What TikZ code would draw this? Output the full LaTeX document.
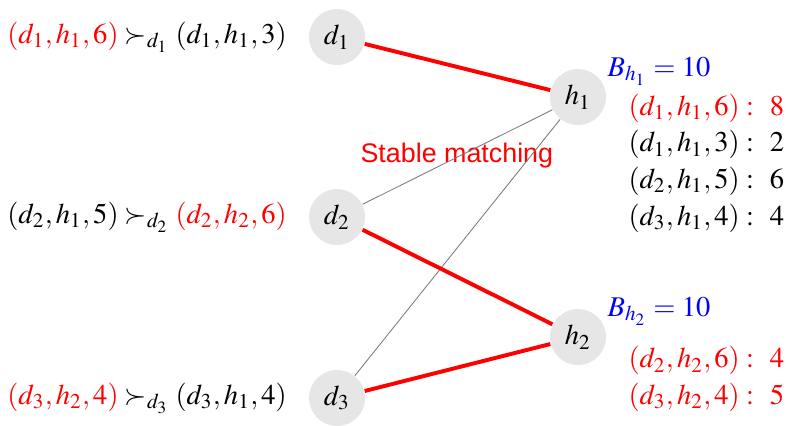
\documentclass[tikz,border=0pt]{standalone}
\usepackage{mathptmx}
\usepackage[no-math]{fontspec}
\newfontfamily\capsans{Liberation Sans}
\usetikzlibrary{positioning}
\definecolor{agentfill}{HTML}{E6E6E6}
\definecolor{matchred}{HTML}{FF0000}
\definecolor{budgetblue}{HTML}{0000FF}
\definecolor{edgegray}{HTML}{7A7A7A}
\tikzset{
  agent/.style={circle,fill=agentfill,minimum size=19.6pt,inner sep=0pt},
  pref/.style={inner sep=0pt},
  budget/.style={text=budgetblue,inner sep=0pt,anchor=west},
  tlist/.style={align=left,inner sep=0pt,anchor=west,font=\fontsize{10}{12.85}\selectfont},
  match/.style={draw=matchred,line width=1.37pt},
  cand/.style={draw=edgegray,line width=0.3pt}
}
\begin{document}
\begin{tikzpicture}[x=0.35pt,y=-0.35pt,node distance=7.4pt]
    \useasboundingbox (0,0) rectangle (790,425);
    % doctors and hospitals
    \node[agent] (d1) at (337,37) {$d_1$};
    \node[agent] (d2) at (337,217) {$d_2$};
    \node[agent] (d3) at (337,398) {$d_3$};
    \node[agent] (h1) at (578,97) {$h_1$};
    \node[agent] (h2) at (578,337) {$h_2$};
    % preferences of the doctors
    \node[pref,left=of d1] (p1) {$\textcolor{matchred}{(d_1,h_1,6)}\succ_{d_1}(d_1,h_1,3)$};
    \node[pref,left=of d2] (p2) {$(d_2,h_1,5)\succ_{d_2}\textcolor{matchred}{(d_2,h_2,6)}$};
    \node[pref,left=of d3] (p3) {$\textcolor{matchred}{(d_3,h_2,4)}\succ_{d_3}(d_3,h_1,4)$};
    % budgets and contracts of the hospitals
    \node[budget] (b1) at (607,71) {$B_{h_1}=10$};
    \node[tlist] (c1) at (628,163) {$\textcolor{matchred}{(d_1,h_1,6):\;\,8}$\\
      $(d_1,h_1,3):\;\,2$\\ $(d_2,h_1,5):\;\,6$\\ $(d_3,h_1,4):\;\,4$};
    \node[budget] (b2) at (607,311) {$B_{h_2}=10$};
    \node[tlist,text=matchred] (c2) at (628,379) {$(d_2,h_2,6):\;\,4$\\ $(d_3,h_2,4):\;\,5$};
    \node[text=matchred,font=\fontsize{9.4}{11}\capsans,inner sep=0pt,anchor=west] (stab) at (360,156) {Stable matching};
    % edges
    \draw[cand] (d2)--(h1);
    \draw[cand] (d3)--(h1);
    \draw[match] (d1)--(h1);
    \draw[match] (d2)--(h2);
    \draw[match] (d3)--(h2);
\end{tikzpicture}
\end{document}
